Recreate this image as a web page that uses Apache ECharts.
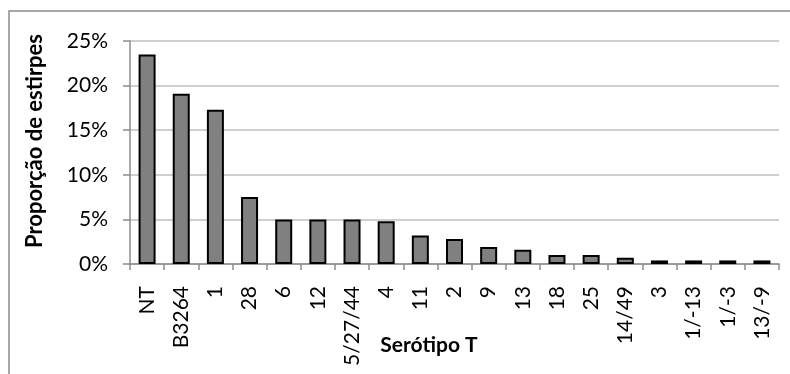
<!DOCTYPE html>
<html>
<head>
<meta charset="utf-8">
<script src="https://cdn.jsdelivr.net/npm/echarts@6/dist/echarts.min.js"></script>
<style>
html,body{margin:0;padding:0;background:#fff;}
#chart{width:790px;height:374px;}
</style>
</head>
<body>
<div id="chart"></div>
<script>
const categories = ["NT","B3264","1","28","6","12","5/27/44","4","11","2","9","13","18","25","14/49","3","1/-13","1/-3","13/-9"];
const values = [23.5,19.1,17.3,7.5,5.0,5.0,5.0,4.8,3.2,2.8,1.9,1.6,1.0,1.0,0.7,0.4,0.4,0.4,0.4];
const yTicks = {min:0,max:25,interval:5};
const xTitle = "Serótipo T";
const yTitle = "Proporção de estirpes";

const FONT = "Lato, 'Open Sans', sans-serif";
const chart = echarts.init(document.getElementById('chart'), null, {renderer:'canvas'});
chart.setOption({
  animation:false,
  backgroundColor:'#fff',
  grid:{left:130, top:41, right:11, bottom:110, containLabel:false},
  graphic:[
    {type:'rect', shape:{x:9, y:11, width:800, height:400}, style:{fill:'none', stroke:'#8c8c8c', lineWidth:1.5}, z:0},
    {type:'text', x:35, y:141, rotation:Math.PI/2, style:{text:yTitle, font:"bold 22px "+FONT, fill:'#000', textAlign:'center', textVerticalAlign:'middle'}},
    {type:'text', x:429, y:345, style:{text:xTitle, font:"bold 21px "+FONT, fill:'#000', textAlign:'center', textVerticalAlign:'middle'}}
  ],
  xAxis:{
    type:'category',
    data:categories,
    boundaryGap:true,
    axisLine:{show:true, lineStyle:{color:'#8c8c8c', width:1.5}},
    axisTick:{show:true, alignWithLabel:false, length:6, lineStyle:{color:'#8c8c8c', width:1.5}},
    axisLabel:{rotate:90, margin:22, interval:0, color:'#000', fontSize:21, fontFamily:FONT}
  },
  yAxis:{
    type:'value',
    min:yTicks.min, max:yTicks.max, interval:yTicks.interval,
    axisLine:{show:true, lineStyle:{color:'#8c8c8c', width:1.5}},
    axisTick:{show:true, length:7, lineStyle:{color:'#8c8c8c', width:1.5}},
    splitLine:{show:true, lineStyle:{color:'#bfbfbf', width:1.5}},
    axisLabel:{formatter:'{value}%', margin:22, color:'#000', fontSize:21, fontFamily:FONT}
  },
  series:[{
    type:'bar',
    data:values,
    barWidth:17,
    itemStyle:{color:'#808080', borderColor:'#000', borderWidth:2}
  }]
});
</script>
</body>
</html>
